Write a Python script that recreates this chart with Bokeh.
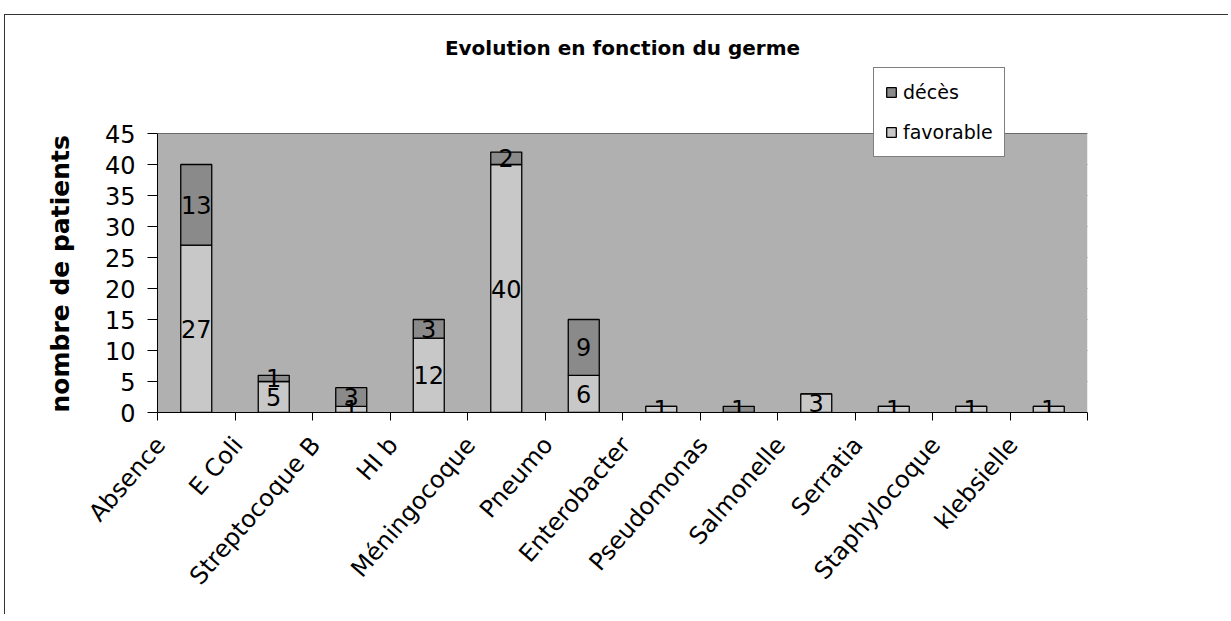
from bokeh.plotting import figure
from bokeh.models import (ColumnDataSource, FixedTicker, Legend, LegendItem,
                          Label, Range1d)
from bokeh.embed import file_html
from bokeh.resources import INLINE
from bokeh.core.properties import value

# ---- data ----
categories = ["Absence", "E Coli", "Streptocoque B", "HI b", "Méningocoque",
              "Pneumo", "Enterobacter", "Pseudomonas", "Salmonelle",
              "Serratia", "Staphylocoque", "klebsielle"]
favorable = [27, 5, 1, 12, 40, 6, 1, 0, 3, 1, 1, 1]
deces = [13, 1, 3, 3, 2, 9, 0, 1, 0, 0, 0, 0]
y_ticks = [0, 5, 10, 15, 20, 25, 30, 35, 40, 45]
title_text = "Evolution en fonction du germe"
y_label = "nombre de patients"

FONT = "DejaVu Sans"
n = len(categories)
ytop = max(y_ticks)
xs = [i + 0.5 for i in range(n)]
source = ColumnDataSource(dict(x=xs, cat=categories,
                               favorable=favorable, deces=deces))

# frame extends above the value axis so title/legend can live inside it
ymax = ytop * (412 - 15) / (412 - 133)

p = figure(width=1224, height=600,
           x_range=Range1d(0, n), y_range=Range1d(0, ymax),
           output_backend="svg", toolbar_location=None,
           min_border_left=152, min_border_right=142,
           min_border_top=0, min_border_bottom=203,
           title=y_label, title_location="left")
p.margin = (14, 0, 0, 4)
p.styles = {"border-top": "1px solid #333", "border-left": "1px solid #333"}
p.background_fill_color = "white"
p.border_fill_color = "white"
p.outline_line_color = None

# y-axis caption (title panel on the left, starting at the value axis bottom)
p.title.text_font = FONT
p.title.text_font_size = "25px"
p.title.text_font_style = "bold"
p.title.text_color = "black"
p.title.align = "left"
p.title.offset = 0
p.title.standoff = 54

# plot area background
p.quad(left=[0], right=[n], bottom=[0], top=[ytop],
       fill_color="#b0b0b0", line_color=None)

rs = p.vbar_stack(["favorable", "deces"], x="x", width=0.4, source=source,
                  fill_color=["#c8c8c8", "#8a8a8a"], line_color="black",
                  line_width=1.3)

# data labels
lx, ly, lt = [], [], []
for xi, f, d in zip(xs, favorable, deces):
    if f:
        lx.append(xi); ly.append(f / 2); lt.append(str(f))
    if d:
        lx.append(xi); ly.append(f + d / 2); lt.append(str(d))
p.text(x=lx, y=ly, text=lt, text_font=value(FONT), text_font_size="24px",
       text_align="center", text_baseline="middle", text_color="black")

# x axis: labels slightly left of centre (as in the original), ticks between
label_pos = [x - 0.46 for x in xs]
p.xaxis.ticker = FixedTicker(ticks=label_pos, minor_ticks=list(range(0, n + 1)))
p.xaxis.major_label_overrides = {x: c for x, c in zip(label_pos, categories)}
p.xaxis.major_tick_line_color = None
p.xaxis.minor_tick_line_color = "black"
p.xaxis.minor_tick_out = 8
p.xaxis.minor_tick_in = 0
p.xaxis.major_label_orientation = 0.86
p.xaxis.major_label_standoff = 20
p.xaxis.major_label_text_font = FONT
p.xaxis.major_label_text_font_size = "24px"
p.xaxis.major_label_text_color = "black"
p.xaxis.axis_line_color = "black"

# y axis
p.yaxis.ticker = FixedTicker(ticks=y_ticks)
p.yaxis.bounds = (0, ytop)
p.yaxis.minor_tick_line_color = None
p.yaxis.major_tick_out = 10
p.yaxis.major_tick_in = 0
p.yaxis.major_tick_line_color = "black"
p.yaxis.major_label_standoff = 12
p.yaxis.major_label_text_font = FONT
p.yaxis.major_label_text_font_size = "24px"
p.yaxis.major_label_text_color = "black"
p.yaxis.axis_line_color = "black"

p.xgrid.visible = False
p.ygrid.ticker = FixedTicker(ticks=y_ticks)
p.ygrid.bounds = (0, ytop)
p.ygrid.grid_line_color = "#222222"
p.ygrid.grid_line_width = 1

# chart title
p.add_layout(Label(x=n / 2, y=ytop + (133 - 47) / 6.2, text=title_text,
                   text_font=FONT, text_font_size="20px",
                   text_font_style="bold", text_align="center",
                   text_baseline="middle", text_color="black"))

legend = Legend(items=[LegendItem(label="décès", renderers=[rs[1]]),
                       LegendItem(label="favorable", renderers=[rs[0]])],
                location=(716, 255))
legend.border_line_color = "black"
legend.border_line_width = 1
legend.background_fill_color = "white"
legend.background_fill_alpha = 1
legend.label_text_font = FONT
legend.label_text_font_size = "19px"
legend.label_text_color = "black"
legend.glyph_width = 12
legend.glyph_height = 12
legend.label_height = 26
legend.padding = 11
legend.spacing = 14
legend.label_standoff = 6
legend.margin = 0
p.add_layout(legend)

open("out.html", "w").write(file_html(p, INLINE))
